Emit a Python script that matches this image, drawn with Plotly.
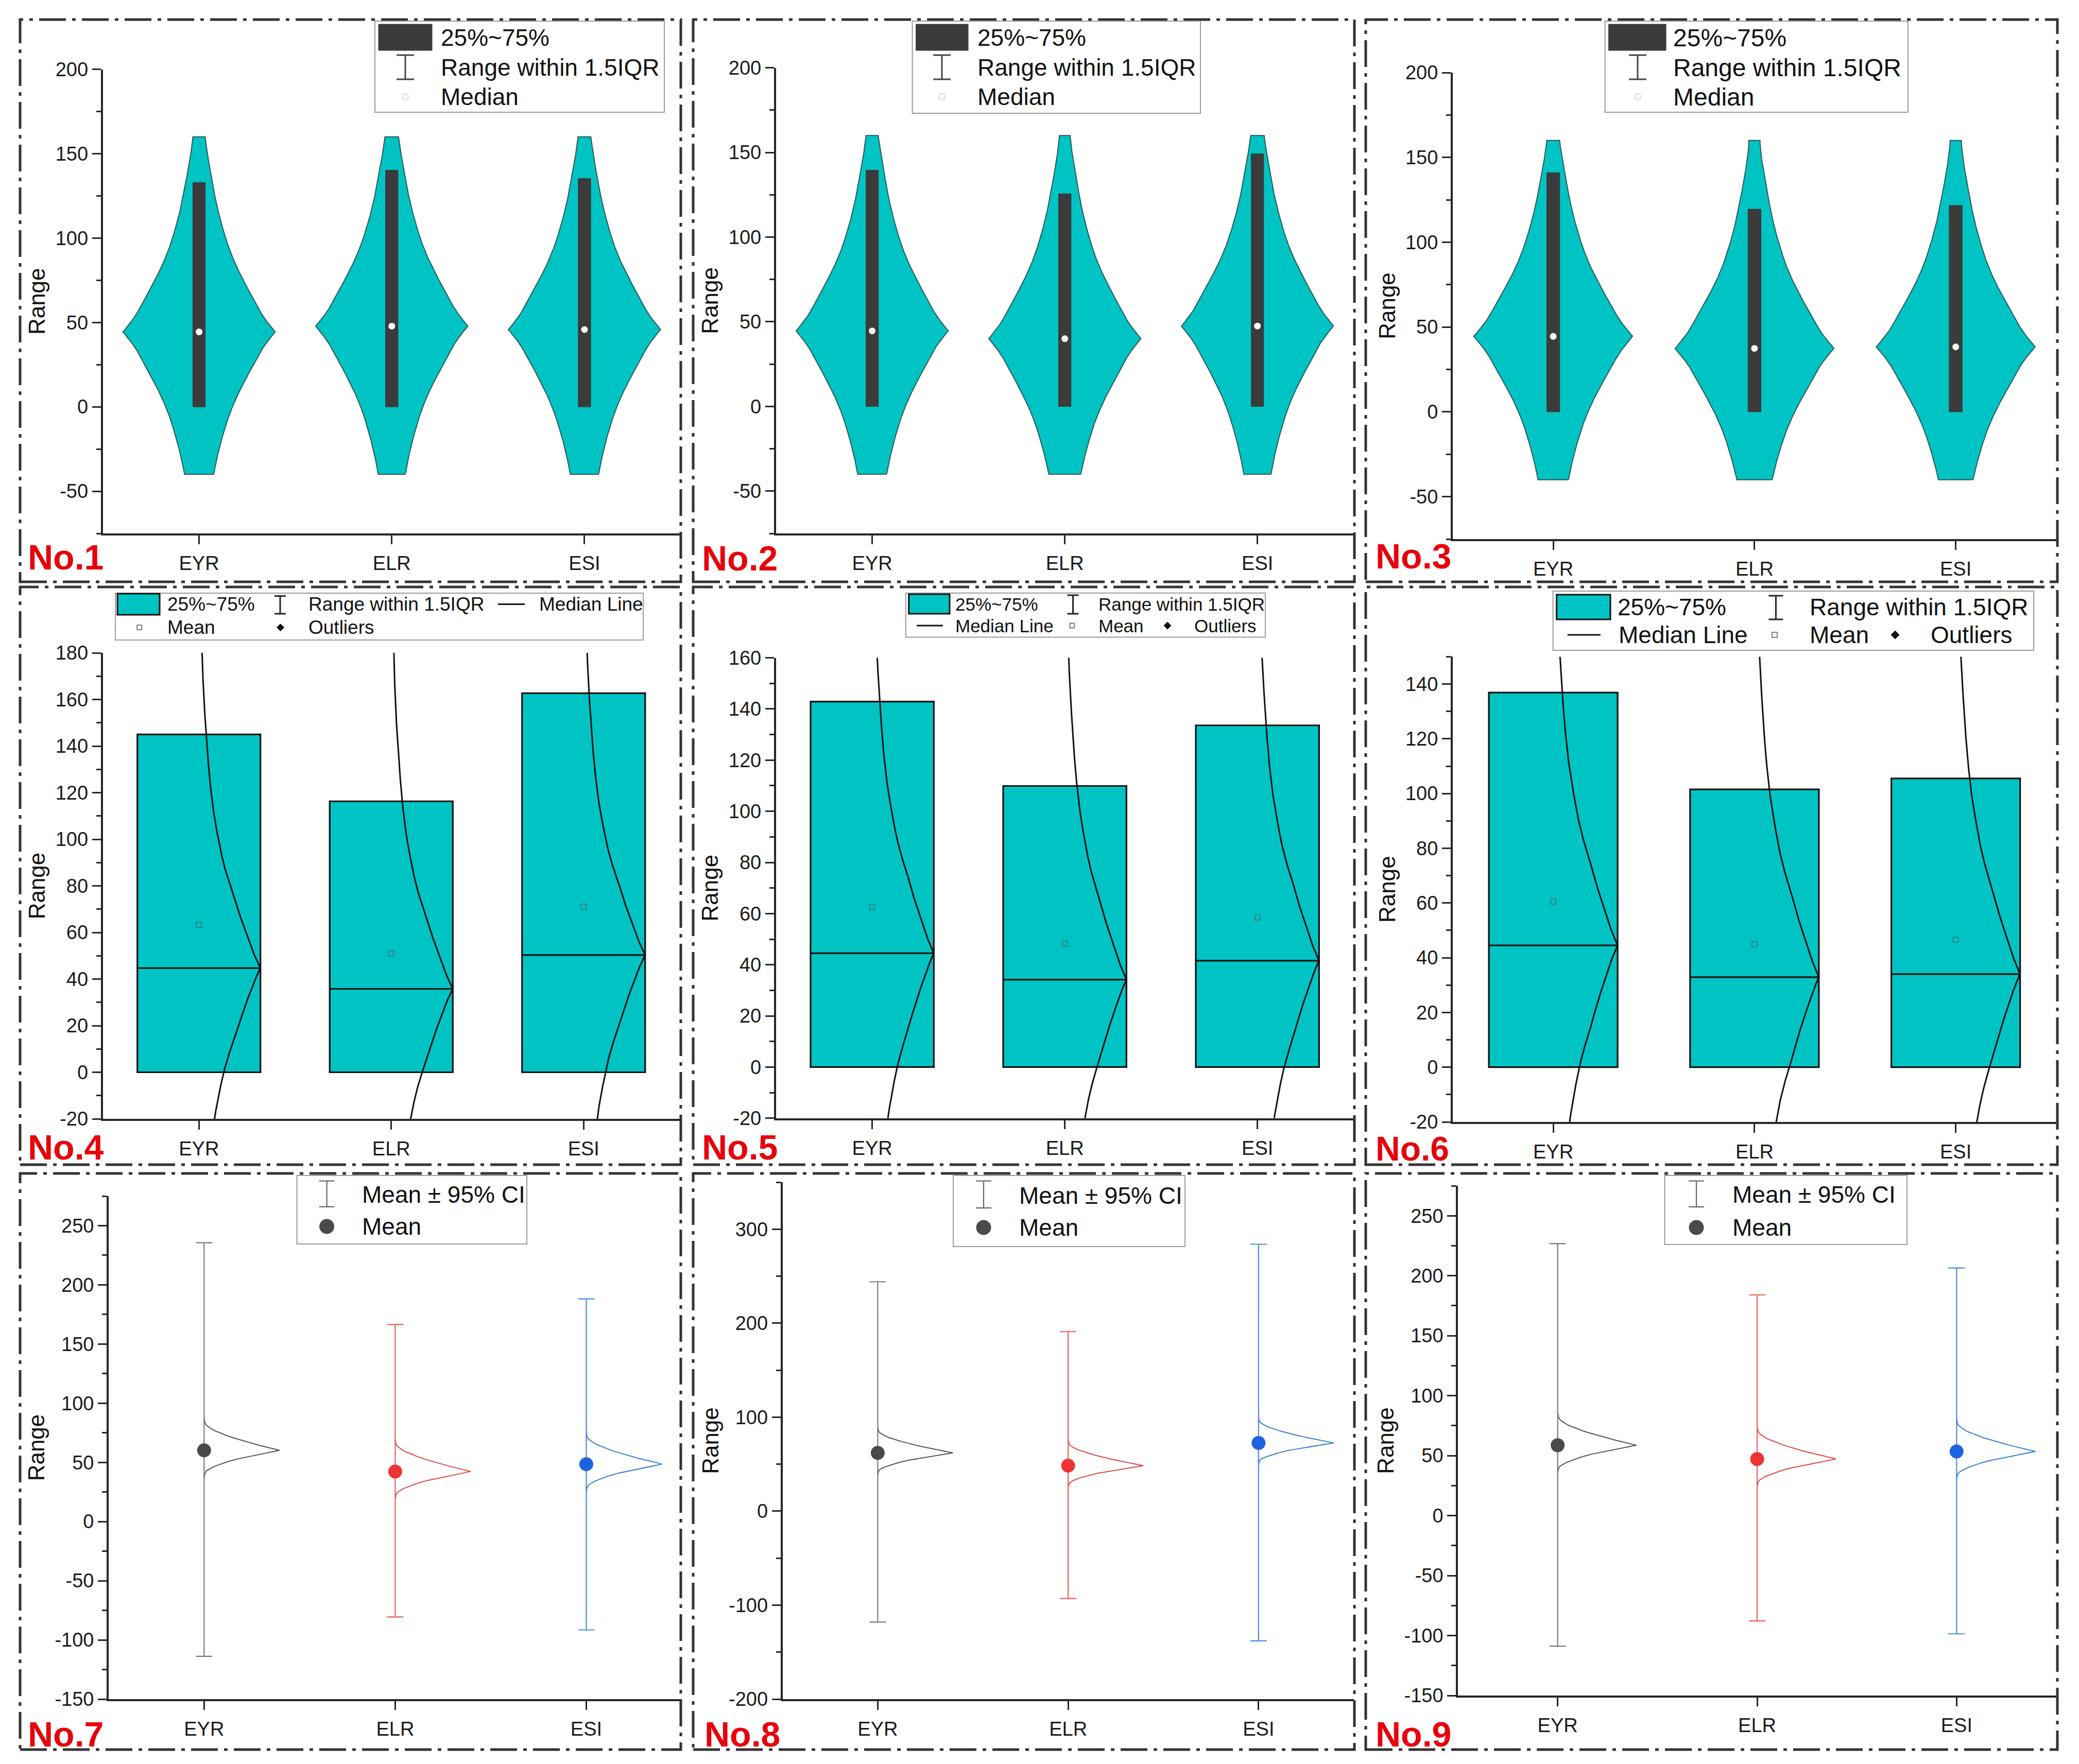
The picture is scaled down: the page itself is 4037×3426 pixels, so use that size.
import numpy as np
import plotly.graph_objects as go

W, H = 4037, 3426
FONT = "Arial, Liberation Sans, sans-serif"

categories = ["EYR", "ELR", "ESI"]

# ---------------- No.1 - No.3 : violin plots ----------------
no1_median = [44.4, 47.8, 45.8]
no1_q3 = [132.9, 140.2, 135.3]
no2_median = [44.6, 40.0, 47.5]
no2_q3 = [139.5, 125.6, 149.2]
no3_median = [44.5, 37.4, 38.3]
no3_q3 = [141.0, 119.5, 121.7]
violin_q1 = [0, 0, 0]
violin_top = 160
violin_bottom = -40
# relative violin width read at distances from the median
violin_dist = [0, 5, 10, 20, 30, 40, 50, 60, 70, 80, 90, 100, 110, 120]
violin_width = [1.0, 0.91, 0.83, 0.71, 0.59, 0.48, 0.39, 0.32, 0.26, 0.21, 0.17, 0.13, 0.095, 0.07]

# ---------------- No.4 - No.6 : box plots ----------------
no4_q3 = [145.0, 116.3, 162.7]
no4_median = [44.7, 35.8, 50.3]
no4_mean = [63.3, 51.1, 71.1]
no5_q3 = [142.9, 109.9, 133.6]
no5_median = [44.5, 34.2, 41.6]
no5_mean = [62.6, 48.3, 58.5]
no6_q3 = [136.9, 101.5, 105.5]
no6_median = [44.5, 32.9, 34.0]
no6_mean = [60.5, 44.9, 46.6]
box_q1 = [0, 0, 0]
# relative offset of the distribution curve read at distances from the median
curve_dist = [0, 5, 10, 20, 30, 45, 55, 65, 80, 100, 130, 160, 220]
curve_width = [1.0, 0.91, 0.84, 0.70, 0.58, 0.40, 0.32, 0.25, 0.18, 0.12, 0.057, 0.03, 0.012]

# ---------------- No.7 - No.9 : mean +- 95% CI ----------------
no7_mean = [60.2, 42.3, 48.5]
no7_upper = [235.6, 166.5, 188.2]
no7_lower = [-113.8, -80.6, -91.5]
no8_mean = [62.0, 48.4, 72.6]
no8_upper = [244.0, 191.0, 284.0]
no8_lower = [-118.0, -93.0, -138.0]
no9_mean = [58.7, 47.2, 53.5]
no9_upper = [226.8, 184.0, 206.5]
no9_lower = [-108.8, -87.8, -98.6]
norm_up_dist = [0, 1.7, 5.1, 9.4, 14.5, 19.6, 26.8]
norm_up_width = [1.0, 0.91, 0.68, 0.45, 0.227, 0.068, 0.002]
norm_dn_dist = [0, 1.2, 4.0, 7.2, 11.6, 15.2, 23.2]
norm_dn_width = [1.0, 0.91, 0.68, 0.45, 0.227, 0.09, 0.002]

# y tick labels per panel
row1_ticks = [-50, 0, 50, 100, 150, 200]
no4_ticks = [-20, 0, 20, 40, 60, 80, 100, 120, 140, 160, 180]
no5_ticks = [-20, 0, 20, 40, 60, 80, 100, 120, 140, 160]
no6_ticks = [-20, 0, 20, 40, 60, 80, 100, 120, 140]
no7_ticks = [-150, -100, -50, 0, 50, 100, 150, 200, 250]
no8_ticks = [-200, -100, 0, 100, 200, 300]
no9_ticks = [-150, -100, -50, 0, 50, 100, 150, 200, 250]

ci_line_colors = ["#7a7a7a", "#e8605e", "#4b8bd6"]
ci_curve_colors = ["#555555", "#e04848", "#3a7bd0"]
ci_marker_colors = ["#4a4a4a", "#ee3333", "#1d63e0"]

CYAN = "#00C4C4"


def prof(d, dist, width):
    return np.exp(np.interp(d, dist, np.log(width)))


# plot area rectangles in page pixels (x0, x1, y0, y1)
areas = {
    1: (199.5, 1322, 134.5, 1036), 2: (1506.6, 2628.7, 131.6, 1036), 3: (2820.7, 3993, 141, 1047),
    4: (199.5, 1320, 1268, 2173), 5: (1506.6, 2628.7, 1277.6, 2171.8), 6: (2820.7, 3993, 1275.4, 2179),
    7: (210.8, 1324, 2323, 3300), 8: (1519.5, 2628.7, 2296, 3300), 9: (2831, 3993, 2303, 3293),
}
yaxes = {1: (-75, 200, 25, row1_ticks), 2: (-75, 200, 25, row1_ticks), 3: (-75, 200, 25, row1_ticks),
         4: (-20, 180, 10, no4_ticks), 5: (-20, 160, 10, no5_ticks), 6: (-20, 150, 10, no6_ticks),
         7: (-150, 275, 25, no7_ticks), 8: (-200, 350, 50, no8_ticks), 9: (-150, 275, 25, no9_ticks)}

fig = go.Figure()


def ax(k):
    return ("x" if k == 1 else f"x{k}"), ("y" if k == 1 else f"y{k}")


# ---- violins ----
for k, med, q3 in [(1, no1_median, no1_q3), (2, no2_median, no2_q3), (3, no3_median, no3_q3)]:
    xa, ya = ax(k)
    for i in range(3):
        m = med[i]
        ys = np.unique(np.concatenate([np.linspace(violin_bottom, violin_top, 301), [m]]))
        half = 0.395 * prof(np.abs(ys - m), violin_dist, violin_width)
        xp = np.concatenate([i + half, (i - half)[::-1], [i + half[0]]])
        yp = np.concatenate([ys, ys[::-1], [ys[0]]])
        fig.add_trace(go.Scatter(x=xp, y=yp, mode="lines", fill="toself", fillcolor=CYAN,
                                 line=dict(color="#2d5656", width=2), xaxis=xa, yaxis=ya,
                                 hoverinfo="skip", showlegend=False))
        bw = 0.0325
        fig.add_trace(go.Scatter(x=[i - bw, i + bw, i + bw, i - bw, i - bw],
                                 y=[violin_q1[i], violin_q1[i], q3[i], q3[i], violin_q1[i]],
                                 mode="lines", fill="toself", fillcolor="#3b3b3b",
                                 line=dict(color="#3b3b3b", width=1), xaxis=xa, yaxis=ya,
                                 hoverinfo="skip", showlegend=False))
    fig.add_trace(go.Scatter(x=[0, 1, 2], y=med, mode="markers",
                             marker=dict(color="white", size=13, line=dict(width=0)),
                             xaxis=xa, yaxis=ya, showlegend=False))

# ---- boxes ----
for k, med, q3, mean in [(4, no4_median, no4_q3, no4_mean), (5, no5_median, no5_q3, no5_mean),
                         (6, no6_median, no6_q3, no6_mean)]:
    xa, ya = ax(k)
    fig.add_trace(go.Box(x=[0, 1, 2], q1=box_q1, median=med, q3=q3, lowerfence=box_q1, upperfence=q3,
                         width=0.64, fillcolor=CYAN, line=dict(color="#111111", width=3.2),
                         boxpoints=False, whiskerwidth=0, xaxis=xa, yaxis=ya, showlegend=False))
    lo, hi = yaxes[k][0], yaxes[k][1]
    for i in range(3):
        ys = np.unique(np.concatenate([np.linspace(lo - 5, hi + 5, 400), [med[i]]]))
        xs = i + 0.32 * prof(np.abs(ys - med[i]), curve_dist, curve_width)
        fig.add_trace(go.Scatter(x=xs, y=ys, mode="lines", line=dict(color="#111111", width=3),
                                 xaxis=xa, yaxis=ya, hoverinfo="skip", showlegend=False))
    fig.add_trace(go.Scatter(x=[0, 1, 2], y=mean, mode="markers",
                             marker=dict(symbol="square-open", size=10, color="#3f6e6e", line=dict(width=1.5)),
                             xaxis=xa, yaxis=ya, showlegend=False))

# ---- mean +- CI ----
for k, mean, up, low in [(7, no7_mean, no7_upper, no7_lower), (8, no8_mean, no8_upper, no8_lower),
                         (9, no9_mean, no9_upper, no9_lower)]:
    xa, ya = ax(k)
    for i in range(3):
        m = mean[i]
        yu = m + np.linspace(0, norm_up_dist[-1], 120)
        yd = m - np.linspace(0, norm_dn_dist[-1], 120)
        xu = i + 0.395 * prof(yu - m, norm_up_dist, norm_up_width)
        xd = i + 0.395 * prof(m - yd, norm_dn_dist, norm_dn_width)
        fig.add_trace(go.Scatter(x=np.concatenate([xu[::-1], xd[1:]]), y=np.concatenate([yu[::-1], yd[1:]]),
                                 mode="lines", line=dict(color=ci_curve_colors[i], width=2),
                                 xaxis=xa, yaxis=ya, hoverinfo="skip", showlegend=False))
        fig.add_trace(go.Scatter(x=[i], y=[m], mode="markers",
                                 marker=dict(color=ci_marker_colors[i], size=27, line=dict(width=0)),
                                 error_y=dict(type="data", symmetric=False, array=[up[i] - m],
                                              arrayminus=[m - low[i]], color=ci_line_colors[i],
                                              thickness=2.2, width=16),
                                 xaxis=xa, yaxis=ya, showlegend=False))

# ---- axes ----
layout = dict(width=W, height=H, margin=dict(l=0, r=0, t=0, b=0), paper_bgcolor="white",
              plot_bgcolor="white", showlegend=False)
AXC = "#262626"
for k in range(1, 10):
    x0, x1, y0, y1 = areas[k]
    lo, hi, mdt, ticks = yaxes[k]
    xn = "xaxis" if k == 1 else f"xaxis{k}"
    yn = "yaxis" if k == 1 else f"yaxis{k}"
    layout[xn] = dict(domain=[x0 / W, x1 / W], anchor=ax(k)[1], range=[-0.5, 2.5],
                      tickmode="array", tickvals=[0, 1, 2], ticktext=categories,
                      showline=True, linecolor=AXC, linewidth=3.5, ticks="outside", ticklen=17,
                      tickwidth=3, tickcolor=AXC, showgrid=False, zeroline=False,
                      ticklabelstandoff=5, automargin=False,
                      tickfont=dict(family=FONT, size=38, color="#1a1a1a"))
    layout[yn] = dict(domain=[1 - y1 / H, 1 - y0 / H], anchor=ax(k)[0], range=[lo, hi],
                      tickmode="array", tickvals=ticks, ticktext=[str(v) for v in ticks],
                      showline=True, linecolor=AXC, linewidth=3.5,
                      ticks="outside", ticklen=17, tickwidth=3, tickcolor=AXC,
                      minor=dict(ticks="outside", ticklen=9, tickwidth=2.5, tickcolor=AXC,
                                 tickmode="linear", dtick=mdt, tick0=0, showgrid=False),
                      showgrid=False, zeroline=False, automargin=False,
                      tickfont=dict(family=FONT, size=38, color="#1a1a1a"),
                      title=dict(text="Range", standoff=7, font=dict(family=FONT, size=44, color="#111")))

shapes, annotations = [], []


def R(x0, y0, x1, y1, **kw):
    shapes.append(dict(type="rect", xref="paper", yref="paper", x0=x0 / W, x1=x1 / W,
                       y0=1 - y1 / H, y1=1 - y0 / H, **kw))


def L(x0, y0, x1, y1, color="#222", width=3):
    shapes.append(dict(type="line", xref="paper", yref="paper", x0=x0 / W, x1=x1 / W,
                       y0=1 - y0 / H, y1=1 - y1 / H, line=dict(color=color, width=width)))


def C(cx, cy, r, **kw):
    shapes.append(dict(type="circle", xref="paper", yref="paper", x0=(cx - r) / W, x1=(cx + r) / W,
                       y0=1 - (cy + r) / H, y1=1 - (cy - r) / H, **kw))


def D(cx, cy, s):
    pts = [(cx, cy - s), (cx + s, cy), (cx, cy + s), (cx - s, cy)]
    path = "M " + " L ".join(f"{x / W},{1 - y / H}" for x, y in pts) + " Z"
    shapes.append(dict(type="path", xref="paper", yref="paper", path=path,
                       fillcolor="#111", line=dict(color="#111", width=1)))


def T(x, y, s, size, color="#111", xanchor="left", bold=False):
    annotations.append(dict(xref="paper", yref="paper", x=x / W, y=1 - y / H,
                            text=(f"<b>{s}</b>" if bold else s), showarrow=False,
                            xanchor=xanchor, yanchor="middle",
                            font=dict(family=FONT, size=size, color=color)))


def IBAR(x, ya, yb, cap, color="#333", width=3):
    L(x, ya, x, yb, color, width)
    L(x - cap, ya, x + cap, ya, color, width)
    L(x - cap, yb, x + cap, yb, color, width)


# panel frames (dash-dot)
cols = [(39, 1322), (1346, 2630), (2652, 3995)]
rows = [(38, 1130), (1140, 2262), (2279, 3398)]
for (ry0, ry1) in rows:
    for (cx0, cx1) in cols:
        R(cx0, ry0, cx1, ry1, line=dict(color="#333333", width=5, dash="52px,12px,7px,12px"),
          fillcolor="rgba(0,0,0,0)", layer="above")

# row-1 legends
for (bx0, by0, bx1, by1, rx1, ix, tx, fs) in [(728, 41, 1290, 218, 839, 787, 854, 46),
                                               (1771.6, 41, 2331, 220, 1880, 1829, 1895.5, 46),
                                               (3116.6, 41, 3705, 218, 3235, 3180, 3246.5, 48)]:
    R(bx0, by0, bx1, by1, line=dict(color="#9a9a9a", width=2), fillcolor="white")
    R(bx0 + 7, 47, rx1, 98, line=dict(color="#3b3b3b", width=1), fillcolor="#3b3b3b")
    IBAR(ix, 107, 154, 17, "#444", 3)
    C(ix, 188, 6, line=dict(color="#cfcfcf", width=1.5), fillcolor="white")
    T(tx, 73, "25%~75%", fs)
    T(tx, 131, "Range within 1.5IQR", fs)
    T(tx, 188, "Median", fs)

# No.4 legend
R(224, 1152, 1249, 1243, line=dict(color="#9a9a9a", width=2), fillcolor="white")
R(228, 1153, 310, 1194, line=dict(color="#111", width=3), fillcolor=CYAN)
T(322.5, 1173.6, "25%~75%", 37)
IBAR(544, 1157.6, 1192, 11, "#222", 3)
T(596.5, 1173.6, "Range within 1.5IQR", 37)
L(967, 1173.6, 1019, 1173.6, "#111", 3)
T(1045, 1173.6, "Median Line", 37)
R(266, 1214, 275, 1223, line=dict(color="#555", width=1.5), fillcolor="white")
T(322.5, 1218.7, "Mean", 37)
D(544.5, 1218.7, 7)
T(596.5, 1218.7, "Outliers", 37)

# No.5 legend
R(1758.8, 1151.8, 2457, 1237.6, line=dict(color="#9a9a9a", width=2), fillcolor="white")
R(1764.7, 1154, 1844, 1192, line=dict(color="#111", width=3), fillcolor=CYAN)
T(1852.8, 1173.6, "25%~75%", 35)
IBAR(2083.5, 1156, 1192, 11, "#222", 3)
T(2130.5, 1173.6, "Range within 1.5IQR", 35)
L(1780, 1215, 1831, 1215, "#111", 3)
T(1852.8, 1215, "Median Line", 35)
R(2077.5, 1210.5, 2086, 1219.5, line=dict(color="#555", width=1.5), fillcolor="white")
T(2130.5, 1215, "Mean", 35)
D(2267, 1215, 7)
T(2316.8, 1215, "Outliers", 35)

# No.6 legend
R(3015.6, 1148, 3949, 1263, line=dict(color="#9a9a9a", width=2), fillcolor="white")
R(3022.6, 1155, 3127, 1203, line=dict(color="#111", width=3), fillcolor=CYAN)
T(3138.5, 1179.4, "25%~75%", 46)
IBAR(3448.4, 1157, 1203, 14, "#222", 3)
T(3511.7, 1179.4, "Range within 1.5IQR", 46)
L(3043.7, 1233, 3107.8, 1233, "#111", 3)
T(3141, 1233, "Median Line", 46)
R(3441, 1228, 3451, 1238, line=dict(color="#555", width=1.5), fillcolor="white")
T(3511.7, 1233, "Mean", 46)
D(3680, 1233, 8)
T(3747, 1233, "Outliers", 46)

# row-3 legends
for (bx0, by0, bx1, by1, ix, iy1, tx, ry1, ry2) in [(576.6, 2283, 1023, 2416, 634.6, 2343.7, 700.5, 2320, 2382),
                                                    (1851, 2283, 2301, 2421, 1910, 2346, 1976.7, 2321.6, 2384),
                                                    (3232.5, 2283, 3703, 2417, 3294, 2344, 3362.4, 2320, 2384)]:
    R(bx0, by0, bx1, by1, line=dict(color="#9a9a9a", width=2), fillcolor="white")
    IBAR(ix, 2293.6, iy1, 15, "#666", 2.2)
    C(ix, ry2, 14.5, line=dict(color="#4a4a4a", width=0), fillcolor="#4a4a4a")
    T(tx, ry1, "Mean ± 95% CI", 46)
    T(tx, ry2, "Mean", 46)

# panel numbers
for (x, y, s, fs) in [(52, 1082, "No.1", 68), (1361, 1084, "No.2", 68), (2669, 1080, "No.3", 68),
                      (52, 2228, "No.4", 68), (1361, 2228, "No.5", 68), (2669, 2231, "No.6", 66),
                      (52, 3368, "No.7", 68), (1366, 3368, "No.8", 68), (2669, 3368, "No.9", 68)]:
    T(x, y, s, fs, color="#E8000B", bold=True)

layout["shapes"] = shapes
layout["annotations"] = annotations
fig.update_layout(**layout)

fig.write_html("out.html", config={"displayModeBar": False},
               post_script="document.body.style.margin='0';document.body.style.overflow='hidden';")
